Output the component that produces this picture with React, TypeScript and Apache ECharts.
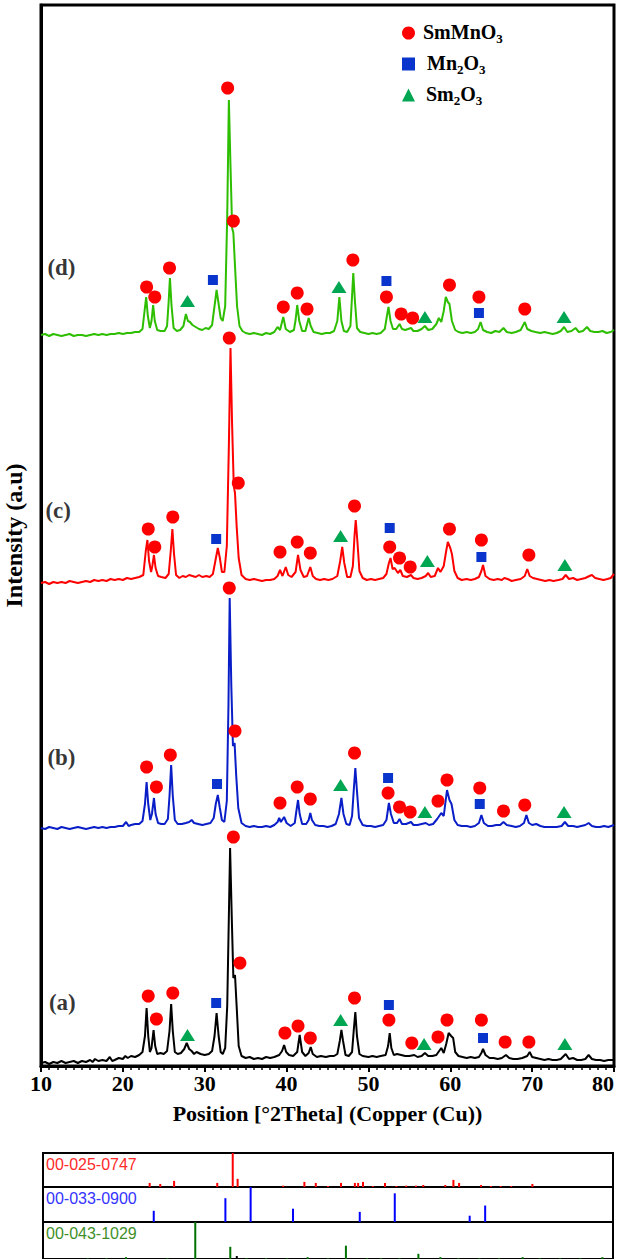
import React, { useEffect, useRef } from 'react';
import * as echarts from 'echarts';

// 2θ (deg) vs intensity (a.u., stacked offsets)
const curveA: number[][] = [[10,3],[10.5,4],[11,2],[11.5,4],[12,3],[12.5,5],[13,3],[13.5,4],[14,5],[14.5,3],[15,5],[15.5,4],[16,6],[16.3,4],[16.6,7],[17,5],[17.5,6],[18,5],[18.4,9],[18.7,5],[19,6],[19.5,8],[20,7],[20.3,10],[20.6,8],[21,10],[21.5,9],[22,11],[22.4,14],[22.7,30],[22.9,58],[23.1,30],[23.3,14],[23.5,18],[23.75,36],[23.95,20],[24.2,12],[24.6,13],[25,12],[25.4,15],[25.7,35],[25.9,62],[26.1,35],[26.35,14],[26.7,12],[27.1,13],[27.5,17],[27.8,23],[28.1,17],[28.4,15],[28.7,12],[29,14],[29.5,12],[30,11],[30.5,12],[30.9,15],[31.2,30],[31.45,53],[31.7,30],[31.95,14],[32.2,12],[32.5,18],[32.75,60],[32.95,150],[33.1,218],[33.3,150],[33.5,88],[33.7,91],[33.9,60],[34.15,20],[34.5,10],[35,8],[35.5,9],[36,7],[36.5,8],[37,7],[37.5,9],[38,8],[38.5,9],[39.1,11],[39.45,15],[39.7,21],[39.95,14],[40.3,11],[40.8,10],[41.3,14],[41.6,31],[41.9,14],[42.3,10],[42.7,13],[42.95,19],[43.2,12],[43.7,9],[44.2,10],[44.8,9],[45.3,10],[45.8,10],[46.2,12],[46.5,25],[46.7,36],[46.9,25],[47.2,11],[47.6,10],[48.0,14],[48.2,35],[48.4,54],[48.6,30],[48.9,12],[49.3,10],[50,9],[50.5,10],[51,9],[51.5,10],[52.1,11],[52.4,20],[52.6,33],[52.8,18],[53.1,11],[53.5,12],[54,11],[54.5,10],[55,10],[55.6,11],[56,9],[56.5,10],[56.9,13],[57.3,10],[57.8,10],[58.3,11],[58.9,18],[59.2,13],[59.5,22],[59.8,33],[60.1,30],[60.35,28],[60.6,14],[61,10],[61.5,9],[62,8],[62.5,9],[63,8],[63.5,9],[63.8,13],[64.0,17],[64.3,11],[64.8,8],[65.3,8],[65.8,7],[66.3,8],[66.8,11],[67.2,8],[67.7,7],[68.2,7],[68.8,8],[69.4,10],[69.7,14],[70,9],[70.5,8],[71,7],[71.5,6],[72,7],[72.5,6],[73,6],[73.5,7],[74.1,12],[74.5,7],[75,8],[75.5,6],[76,6],[76.5,7],[76.9,11],[77.3,7],[77.8,6],[78.3,6],[78.8,5],[79.3,6],[80,6]];

const curveB: number[][] = [[10,238],[10.5,237],[11,239],[11.5,238],[12,237],[12.5,239],[13,238],[13.5,237],[14,238],[14.5,239],[15,238],[15.5,237],[16,238],[16.5,239],[17,238],[17.5,239],[18,238],[18.5,239],[19,239],[19.5,240],[20,240],[20.4,244],[20.7,240],[21,241],[21.5,242],[22,242],[22.4,245],[22.7,262],[22.9,284],[23.1,262],[23.35,246],[23.55,252],[23.8,268],[24.0,252],[24.3,243],[24.7,242],[25.1,242],[25.5,247],[25.7,270],[25.9,301],[26.1,270],[26.35,246],[26.7,242],[27.2,242],[27.7,243],[28.1,244],[28.4,246],[28.7,243],[29.2,242],[29.7,241],[30.2,242],[30.7,243],[31.1,248],[31.35,262],[31.6,271],[31.85,258],[32.1,246],[32.4,244],[32.7,265],[32.9,360],[33.05,468],[33.25,380],[33.45,320],[33.65,323],[33.85,290],[34.1,258],[34.5,243],[35,240],[35.5,239],[36,240],[36.5,239],[37,239],[37.5,240],[38,239],[38.5,241],[38.9,244],[39.1,248],[39.3,244],[39.7,249],[40,243],[40.5,240],[41,243],[41.2,255],[41.4,266],[41.6,252],[41.9,242],[42.4,242],[42.7,246],[42.9,253],[43.1,246],[43.5,241],[44,240],[44.5,240],[45,239],[45.5,240],[46,242],[46.4,252],[46.7,268],[46.95,252],[47.3,242],[47.7,241],[48.0,250],[48.2,275],[48.4,298],[48.6,275],[48.85,248],[49.3,241],[49.8,240],[50.3,240],[50.8,239],[51.3,240],[51.8,241],[52.2,246],[52.5,263],[52.75,252],[53.1,243],[53.5,243],[53.8,247],[54.1,242],[54.6,242],[55.2,244],[55.5,241],[56,241],[56.5,242],[57,243],[57.4,241],[57.9,242],[58.4,247],[58.9,253],[59.2,250],[59.6,276],[59.9,266],[60.15,262],[60.5,246],[60.9,241],[61.4,240],[62,240],[62.5,239],[63,240],[63.5,243],[63.8,251],[64.1,243],[64.6,240],[65.1,240],[65.6,241],[66.1,241],[66.5,244],[66.9,241],[67.5,240],[68,239],[68.5,240],[69,243],[69.3,251],[69.6,243],[70,241],[70.5,242],[71,240],[71.5,239],[72,239],[72.5,239],[73,239],[73.6,240],[74,244],[74.4,240],[75,240],[75.5,239],[76,240],[76.5,241],[76.9,243],[77.3,240],[77.8,239],[78.3,239],[78.8,240],[79.3,239],[80,241]];

const curveC: number[][] = [[10,483],[10.5,484],[11,482],[11.5,484],[12,483],[12.5,484],[13,483],[13.5,485],[14,484],[14.5,483],[15,484],[15.5,485],[16,484],[16.5,486],[17,485],[17.5,486],[18,485],[18.5,487],[19,486],[19.5,487],[20,486],[20.5,488],[21,487],[21.5,488],[22,489],[22.5,491],[22.8,515],[23.0,526],[23.2,505],[23.45,494],[23.6,500],[23.8,511],[24.0,498],[24.3,490],[24.7,489],[25.2,488],[25.6,492],[25.85,515],[26.05,537],[26.25,512],[26.5,491],[26.9,488],[27.3,490],[27.7,489],[28.1,491],[28.5,490],[28.9,489],[29.3,491],[29.7,489],[30.2,490],[30.6,489],[31.0,492],[31.3,505],[31.6,518],[31.85,508],[32.1,494],[32.4,494],[32.7,520],[32.95,620],[33.15,718],[33.35,640],[33.55,580],[33.7,573],[33.9,540],[34.15,508],[34.5,491],[35,487],[35.5,486],[36,487],[36.5,486],[37,485],[37.5,486],[38,486],[38.5,487],[38.9,490],[39.2,496],[39.5,490],[39.9,499],[40.2,491],[40.6,489],[41.1,494],[41.4,511],[41.7,496],[42.1,489],[42.5,490],[42.9,499],[43.2,490],[43.6,487],[44.1,486],[44.6,487],[45.1,486],[45.6,487],[46.2,490],[46.55,505],[46.8,519],[47.05,503],[47.4,489],[47.8,489],[48.1,500],[48.3,530],[48.45,546],[48.65,525],[48.9,495],[49.3,488],[49.8,486],[50.3,487],[50.8,486],[51.3,487],[51.8,488],[52.2,492],[52.5,503],[52.7,508],[52.95,497],[53.2,498],[53.6,493],[53.9,496],[54.2,490],[54.7,489],[55.2,491],[55.5,488],[56,487],[56.5,488],[57,490],[57.3,493],[57.6,489],[58.1,490],[58.5,498],[58.8,494],[59.2,500],[59.5,515],[59.7,524],[60.0,518],[60.2,512],[60.5,495],[60.9,488],[61.4,486],[62,487],[62.5,486],[63,487],[63.5,489],[63.8,495],[64.0,501],[64.3,490],[64.8,487],[65.3,486],[65.8,487],[66.3,486],[66.6,488],[67,487],[67.5,485],[68,486],[68.6,487],[69.1,490],[69.4,497],[69.7,490],[70.1,488],[70.6,487],[71.1,486],[71.6,485],[72.1,486],[72.6,485],[73.2,486],[73.7,487],[74.1,491],[74.5,487],[75,488],[75.5,486],[76,487],[76.5,488],[77,490],[77.3,491],[77.7,488],[78.2,487],[78.7,486],[79.2,487],[79.6,488],[80,492]];

const curveD: number[][] = [[10,731],[10.5,732],[11,730],[11.5,732],[12,731],[12.5,730],[13,731],[13.5,732],[14,730],[14.5,731],[15,731],[15.5,730],[16,731],[16.5,732],[17,731],[17.5,732],[18,731],[18.5,732],[19,732],[19.5,733],[20,732],[20.5,733],[21,733],[21.5,734],[22,734],[22.4,737],[22.65,755],[22.85,769],[23.05,750],[23.3,738],[23.5,745],[23.7,761],[23.9,745],[24.2,736],[24.6,735],[25.1,735],[25.4,740],[25.6,765],[25.75,788],[25.95,760],[26.2,738],[26.6,735],[27.0,736],[27.4,740],[27.7,752],[27.95,745],[28.2,744],[28.5,741],[28.9,739],[29.3,737],[29.7,736],[30.1,738],[30.5,737],[30.9,741],[31.2,760],[31.45,776],[31.7,762],[31.95,748],[32.2,745],[32.5,760],[32.75,850],[32.95,966],[33.15,900],[33.35,838],[33.5,833],[33.7,800],[33.95,760],[34.25,740],[34.6,735],[35,733],[35.5,732],[36,733],[36.5,732],[37,731],[37.5,733],[38,732],[38.5,734],[38.9,739],[39.2,736],[39.6,749],[39.9,737],[40.4,734],[40.9,736],[41.1,746],[41.3,761],[41.55,745],[41.9,735],[42.3,735],[42.7,748],[42.95,740],[43.3,734],[43.8,733],[44.3,732],[44.8,733],[45.3,733],[45.8,735],[46.2,745],[46.45,769],[46.7,745],[47.0,735],[47.4,734],[47.8,740],[48.0,770],[48.15,793],[48.35,765],[48.6,738],[49.0,734],[49.5,733],[50,732],[50.5,733],[51,732],[51.5,733],[52.0,737],[52.3,752],[52.45,759],[52.7,745],[53.0,737],[53.4,737],[53.8,742],[54.1,737],[54.5,736],[55.2,738],[55.5,735],[56,735],[56.5,737],[56.9,740],[57.3,736],[57.8,737],[58.3,742],[58.6,748],[58.9,744],[59.2,755],[59.45,769],[59.7,764],[59.9,762],[60.2,745],[60.6,736],[61,734],[61.5,733],[62,734],[62.5,733],[63,734],[63.4,737],[63.7,744],[64.0,736],[64.5,734],[65.0,733],[65.5,735],[66.0,734],[66.5,738],[66.9,734],[67.5,733],[68,734],[68.6,736],[69.1,744],[69.4,737],[69.9,735],[70.4,734],[71,733],[71.5,734],[72,733],[72.5,732],[73,733],[73.5,735],[73.9,739],[74.3,734],[74.8,735],[75.3,738],[75.7,734],[76.2,735],[76.7,739],[77.1,735],[77.6,734],[78.1,734],[78.6,735],[79.1,733],[79.6,734],[80,736]];

// phase markers [2θ, intensity]
const smmno3Marks: number[][] = [
  [23.1,70],[24.1,47],[26.1,73],[33.5,229],[34.3,103],[39.8,33],[41.4,40],[42.9,28],[48.3,68],[52.5,46],[55.3,23],[58.5,29],[59.6,46],[63.8,46],[66.7,24],[69.6,24],
  [22.9,299],[24.1,279],[25.8,311],[33.0,478],[33.7,335],[39.2,263],[41.3,279],[42.9,267],[48.3,313],[52.4,273],[53.8,259],[55.1,254],[58.5,265],[59.6,286],[63.6,278],[66.5,255],[69.1,261],
  [23.1,537],[23.9,519],[26.1,549],[33.0,728],[34.1,583],[39.2,514],[41.3,524],[42.9,513],[48.3,560],[52.6,519],[53.8,508],[55.1,499],[59.9,537],[63.8,526],[69.6,511],
  [22.9,779],[23.9,769],[25.7,798],[32.8,978],[33.5,845],[39.6,759],[41.3,773],[42.5,757],[48.1,806],[52.2,769],[54.0,752],[55.4,748],[59.9,781],[63.5,769],[69.1,757]
];
const mn2o3Marks: number[][] = [
  [31.4,63],[52.5,61],[64.0,28],
  [31.5,282],[52.4,288],[63.6,262],
  [31.4,527],[52.6,538],[63.8,509],
  [31.0,786],[52.2,785],[63.5,753]
];
const sm2o3Marks: number[][] = [
  [27.9,31],[46.6,46],[56.8,22],[74.0,22],
  [46.6,281],[56.9,254],[73.9,254],
  [46.6,530],[57.2,505],[74.0,501],
  [27.9,765],[46.4,779],[56.9,749],[73.9,749]
];

const sampleLabels: (number | string)[][] = [[12.6,64,'(a)'],[12.5,309,'(b)'],[12.1,556,'(c)'],[12.5,799,'(d)']];

// reference stick patterns [2θ, relative intensity %]
const refCodes = ['00-025-0747', '00-033-0900', '00-043-1029'];
const refRed: number[][] = [[23.1,12],[24.4,9],[26.1,18],[31.4,12],[33.3,100],[33.9,24],[39.5,4],[42.1,15],[43.5,12],[45.0,3],[46.6,12],[48.3,12],[48.7,12],[49.3,15],[50.5,3],[52.0,12],[53.4,3],[54.6,4],[55.8,4],[56.7,6],[59.4,6],[60.4,21],[61.1,12],[63.8,6],[65.0,3],[66.2,3],[67.5,3],[70.1,9]];
const refBlue: number[][] = [[23.6,32],[32.4,68],[35.5,100],[40.7,38],[48.9,29],[53.2,82],[62.4,18],[64.3,47]];
const refGreen: number[][] = [[15.5,2],[17.8,2],[20.2,5],[25.3,2],[28.7,100],[33.0,33],[33.8,8],[35.0,2],[37.4,2],[40.0,2],[42.5,5],[45.0,2],[47.2,36],[49.8,2],[51.5,2],[53.8,2],[56.1,14],[58.8,5],[61.0,2],[63.6,2],[66.0,2],[68.9,5],[71.0,2],[73.5,2],[76.0,2],[78.7,5]];

const curves = [curveA, curveB, curveC, curveD];
const curveNames = ['(a)', '(b)', '(c)', '(d)'];
const curveColors = ['#000000', '#0a1ec8', '#ff0000', '#2dbe00'];

const SERIF = '"Liberation Serif", "Times New Roman", serif';
const SANS = '"Liberation Sans", Arial, sans-serif';

export default function App() {
  const ref = useRef<HTMLDivElement>(null);
  useEffect(() => {
    const chart = echarts.init(ref.current as HTMLDivElement, null, { renderer: 'svg' });
    const legendText: Record<string, string> = {
      SmMnO3: '{a|SmMnO}{s|3}',
      Mn2O3: '{b|Mn}{s|2}{m|O}{s|3}',
      Sm2O3: '{c|Sm}{s|2}{m|O}{s|3}',
    };
    const mStyle = { fontFamily: SERIF, fontWeight: 'bold', fontSize: 20, lineHeight: 22, verticalAlign: 'top', color: '#000' };
    const refRows = [refRed, refBlue, refGreen];
    const refColors = ['#ff0000', '#0000ff', '#007000'];
    const refTextColors = ['#ff2a2a', '#3434ff', '#3f8f2a'];
    const rowTops = [1153, 1187, 1222];
    const rowHeights = [34, 35, 37];

    const option: any = {
      animation: false,
      backgroundColor: '#ffffff',
      grid: [
        { left: 41, right: 6, top: 5, bottom: 193, show: true, borderColor: '#000', borderWidth: 3, backgroundColor: 'transparent', outerBoundsMode: 'none', containLabel: false },
        ...rowTops.map((t, i) => ({ left: 43, right: 7, top: t, height: rowHeights[i], show: true, borderColor: '#000', borderWidth: 2, outerBoundsMode: 'none', containLabel: false })),
      ],
      xAxis: [
        {
          gridIndex: 0, type: 'value', min: 10, max: 80, interval: 10,
          axisLine: { show: true, lineStyle: { color: '#000', width: 3 } },
          axisTick: { show: true, length: 6, lineStyle: { color: '#000', width: 2 } },
          minorTick: { show: true, splitNumber: 10, length: 4, lineStyle: { color: '#000', width: 1.5 } },
          splitLine: { show: false },
          axisLabel: { color: '#000', fontFamily: SERIF, fontWeight: 'bold', fontSize: 22, margin: 6, alignMaxLabel: 'right' },
          name: 'Position [°2Theta] (Copper (Cu))', nameLocation: 'middle', nameGap: 36,
          nameTextStyle: { color: '#000', fontFamily: SERIF, fontWeight: 'bold', fontSize: 22 },
        },
        ...[1, 2, 3].map((g) => ({ gridIndex: g, type: 'value', min: 10, max: 80, show: false })),
      ],
      yAxis: [
        {
          gridIndex: 0, type: 'value', min: 0, max: 1061,
          axisLine: { show: true, lineStyle: { color: '#000', width: 3 } },
          axisTick: { show: false }, axisLabel: { show: false }, splitLine: { show: false },
          name: 'Intensity (a.u)', nameLocation: 'middle', nameGap: 15, nameRotate: 90,
          nameTextStyle: { color: '#000', fontFamily: SERIF, fontWeight: 'bold', fontSize: 24 },
        },
        ...[1, 2, 3].map((g) => ({ gridIndex: g, type: 'value', min: 0, max: 100, show: false })),
      ],
      legend: {
        data: ['SmMnO3', 'Mn2O3', 'Sm2O3'],
        orient: 'vertical', left: 397, top: 17, itemGap: 8, itemWidth: 13, itemHeight: 13,
        formatter: (n: string) => legendText[n] || n,
        textStyle: {
          rich: {
            a: { ...mStyle, padding: [0, 0, 0, 3] },
            b: { ...mStyle, padding: [0, 0, 0, 7] },
            c: { ...mStyle, padding: [0, 0, 0, 6] },
            m: mStyle,
            s: { fontFamily: SERIF, fontWeight: 'bold', fontSize: 13, lineHeight: 14, verticalAlign: 'top', padding: [10, 0, 0, 0], color: '#000' },
          },
        },
      },
      series: [
        ...curves.map((c, i) => ({
          name: curveNames[i], type: 'line', xAxisIndex: 0, yAxisIndex: 0, data: c, showSymbol: false,
          lineStyle: { color: curveColors[i], width: 2 }, itemStyle: { color: curveColors[i] }, z: 2,
        })),
        { name: 'SmMnO3', type: 'scatter', data: smmno3Marks, symbol: 'circle', symbolSize: 13, itemStyle: { color: '#ff0000', opacity: 1 }, z: 5 },
        { name: 'Mn2O3', type: 'scatter', data: mn2o3Marks, symbol: 'rect', symbolSize: 10, itemStyle: { color: '#0a35cc', opacity: 1 }, z: 5 },
        { name: 'Sm2O3', type: 'scatter', data: sm2o3Marks, symbol: 'triangle', symbolSize: [15, 12], itemStyle: { color: '#00a651', opacity: 1 }, z: 5 },
        {
          name: 'labels', type: 'scatter', data: sampleLabels, symbolSize: 1, itemStyle: { color: 'transparent' }, z: 6,
          label: { show: true, position: 'inside', formatter: (p: any) => p.data[2], color: '#000', fontFamily: SERIF, fontWeight: 'bold', fontSize: 23 },
        },
        ...refRows.map((rows, i) => ({
          name: refCodes[i], type: 'bar', xAxisIndex: i + 1, yAxisIndex: i + 1, barWidth: 2,
          data: rows.map((r) => ({ value: r, itemStyle: { color: i === 2 && r[0] === 33.8 ? '#000' : refColors[i] } })),
          itemStyle: { color: refColors[i] },
        })),
      ],
      graphic: refCodes.map((code, i) => ({
        type: 'text', left: 46, top: rowTops[i] + 3, z: 10,
        style: { text: code, fill: refTextColors[i], font: `16px ${SANS}` },
      })),
    };
    chart.setOption(option);
    return () => chart.dispose();
  }, []);
  return <div ref={ref} style={{ position: 'absolute', left: 0, top: 0, width: 620, height: 1259, background: '#fff' }} />;
}
